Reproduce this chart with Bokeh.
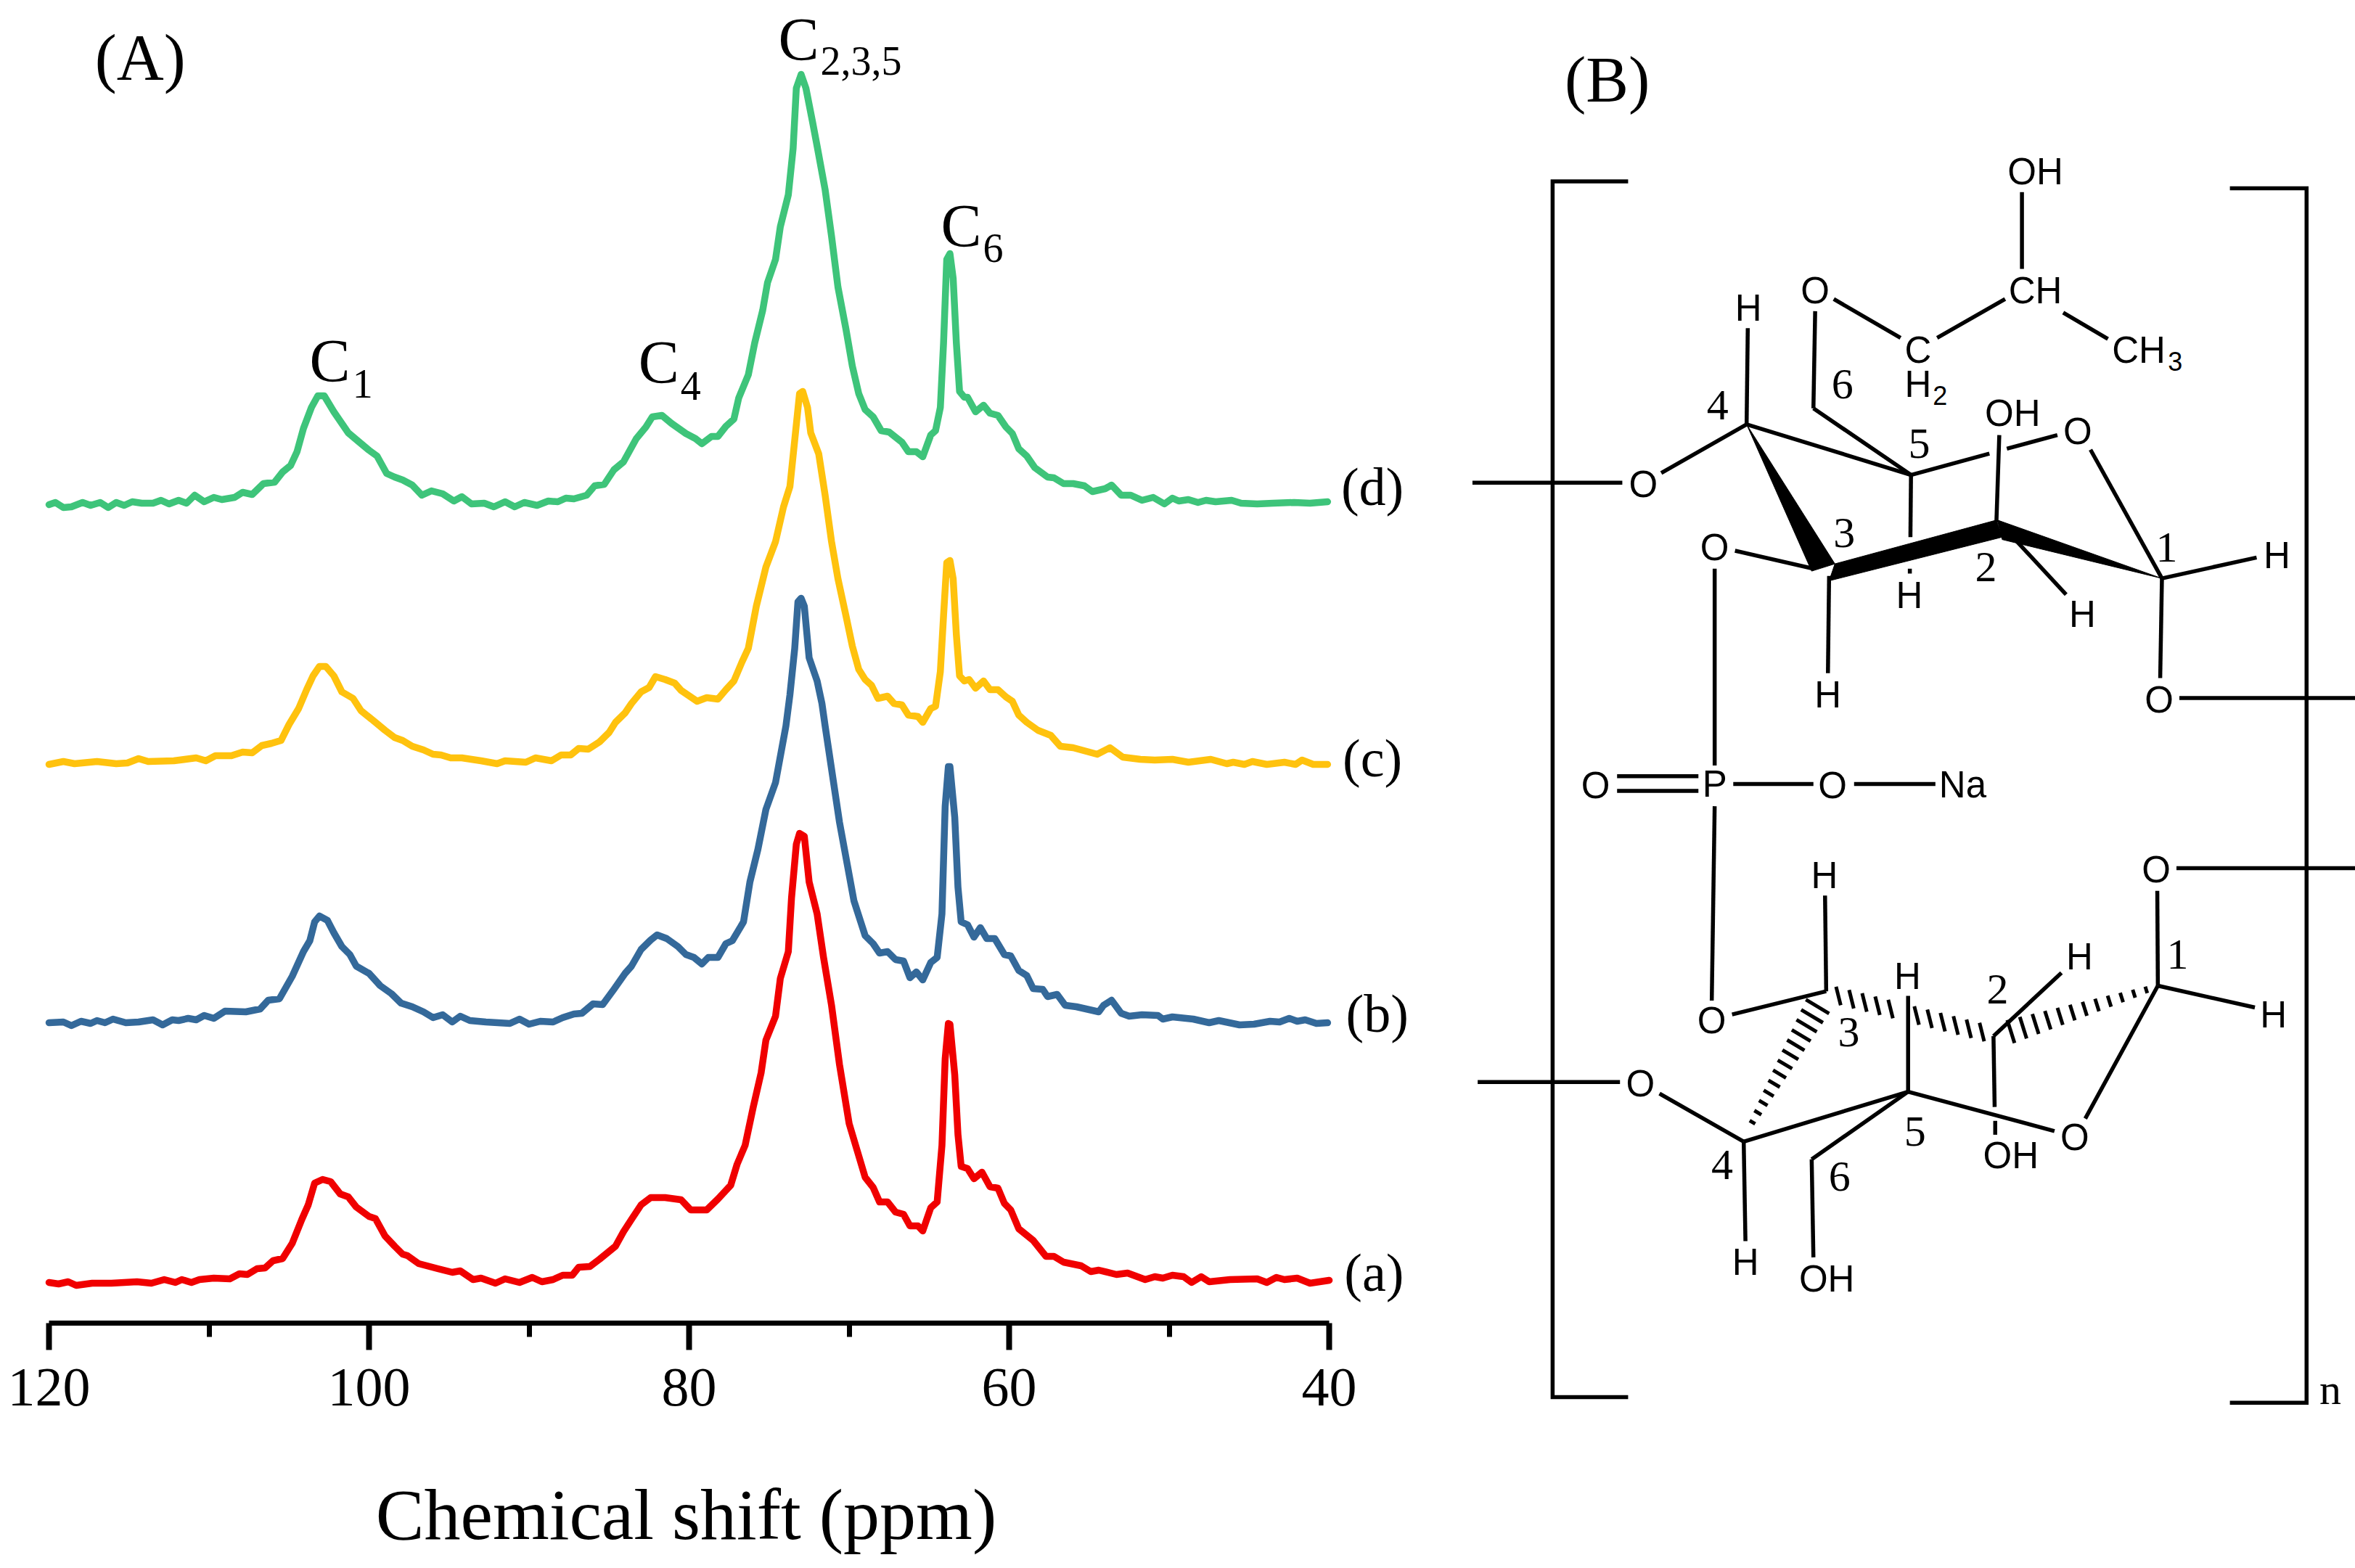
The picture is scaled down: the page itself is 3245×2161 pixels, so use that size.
from bokeh.plotting import figure
from bokeh.layouts import row, column
from bokeh.models import Range1d, FixedTicker
from bokeh.core.properties import value
from bokeh.embed import file_html
from bokeh.resources import INLINE
import numpy as np

# ---- spectra: chemical shift (ppm) and intensity above each trace's baseline
ppm_d = [120.0,119.6,119.1,118.6,117.9,117.4,116.8,116.3,115.8,115.3,114.8,114.2,113.5,113.0,112.5,111.9,111.4,110.9,110.3,109.7,109.2,108.4,107.9,107.3,106.6,105.9,105.4,104.9,104.5,104.1,103.6,103.2,102.8,102.2,101.3,100.6,100.0,99.5,98.9,98.4,97.9,97.3,96.7,96.1,95.4,94.7,94.2,93.6,92.8,92.2,91.5,90.9,90.3,89.5,88.8,88.2,87.7,87.2,86.4,85.9,85.3,84.7,84.1,83.3,82.7,82.3,81.7,81.1,80.2,79.6,79.2,78.6,78.2,77.7,77.2,76.9,76.3,75.9,75.4,75.1,74.6,74.3,73.8,73.5,73.3,73.0,72.7,72.3,72.0,71.5,71.1,70.7,70.2,69.8,69.4,69.0,68.5,68.0,67.5,66.7,66.3,65.8,65.4,64.9,64.6,64.3,64.1,63.9,63.7,63.5,63.3,63.1,62.8,62.6,62.1,61.6,61.2,60.7,60.2,59.8,59.4,58.9,58.4,57.6,57.2,56.6,56.0,55.3,54.8,54.0,53.6,53.0,52.4,51.7,51.0,50.3,49.8,49.4,48.8,48.2,47.7,47.1,46.1,45.5,44.5,43.5,42.2,41.2,40.1]
int_d = [0,3,-4,-3,3,-1,3,-4,3,-1,4,2,2,6,1,6,2,13,4,10,7,10,17,14,29,31,45,54,73,105,134,150,150,128,99,86,75,67,43,38,34,27,13,19,15,5,11,1,2,-3,4,-3,3,-1,5,4,9,8,13,26,28,48,59,91,107,121,123,112,98,91,84,94,94,108,118,147,179,223,268,306,338,383,427,491,574,593,574,529,494,434,370,300,242,191,153,131,121,102,100,86,73,73,66,96,102,134,223,338,346,312,223,156,148,148,128,137,126,123,107,98,77,67,51,38,37,29,29,26,18,22,27,13,13,6,10,1,9,5,7,3,6,4,6,2,1,2,3,2,4]

ppm_c = [120.0,119.1,118.4,117.0,115.8,115.1,114.4,113.8,112.2,110.8,110.2,109.6,108.6,107.9,107.3,106.7,106.1,105.5,105.0,104.4,103.9,103.5,103.1,102.7,102.2,101.7,101.0,100.5,99.6,99.0,98.4,97.9,97.3,96.6,96.0,95.5,94.9,94.2,93.0,92.0,91.5,90.2,89.6,88.6,88.0,87.4,86.9,86.3,85.6,85.0,84.6,84.0,83.6,83.0,82.5,82.1,81.5,80.9,80.5,80.1,79.5,78.9,78.2,77.7,77.2,76.7,76.3,75.8,75.2,74.6,74.1,73.7,73.4,73.1,72.9,72.6,72.4,71.9,71.5,71.1,70.7,70.2,69.8,69.4,69.0,68.6,68.2,67.6,67.2,66.7,66.3,65.7,65.4,64.9,64.6,64.3,64.1,63.9,63.7,63.5,63.3,63.1,62.8,62.5,62.1,61.6,61.2,60.7,60.2,59.8,59.4,58.9,58.2,57.4,56.8,56.0,54.5,53.7,52.9,51.8,50.9,49.8,48.8,47.4,46.4,46.0,45.3,44.8,43.9,42.8,42.1,41.7,41.0,40.1]
int_c = [-3,1,-2,1,-2,-1,5,1,2,6,2,9,9,14,13,23,26,30,52,74,100,119,132,132,119,97,88,71,55,44,34,30,22,17,11,10,6,6,2,-2,2,0,6,2,10,10,19,18,28,41,55,68,81,97,103,118,114,109,99,93,84,89,87,100,112,138,157,215,269,304,352,380,444,508,511,489,454,425,368,304,253,202,160,128,114,106,88,91,81,79,65,63,55,74,77,125,202,275,278,253,176,119,112,114,102,112,100,100,90,84,65,55,44,37,22,20,11,20,7,4,3,4,0,4,-2,0,-3,1,-3,0,-3,3,-3,-3]

ppm_b = [120.0,119.1,118.6,118.0,117.4,117.0,116.5,116.0,115.2,114.4,113.5,112.9,112.3,111.9,111.3,110.8,110.3,109.7,109.0,107.7,106.8,106.3,105.6,104.8,104.1,103.7,103.4,103.1,102.6,102.2,101.7,101.2,100.8,100.0,99.3,98.6,98.0,97.3,96.6,96.0,95.4,94.8,94.3,93.7,92.7,91.2,90.6,90.0,89.3,88.5,87.9,87.2,86.7,86.0,85.4,84.7,84.0,83.6,83.0,82.4,82.0,81.4,80.7,80.2,79.7,79.2,78.8,78.2,77.7,77.3,76.6,76.2,75.7,75.2,74.6,73.95,73.7,73.4,73.2,73.0,72.8,72.5,72.0,71.7,71.5,71.0,70.6,70.1,69.7,69.0,68.5,68.1,67.6,67.1,66.6,66.2,65.8,65.4,64.9,64.5,64.2,64.0,63.8,63.7,63.4,63.2,63.0,62.6,62.2,61.8,61.4,60.9,60.3,59.9,59.4,58.9,58.5,57.9,57.6,57.0,56.5,55.8,54.4,54.1,53.6,53.0,52.5,51.7,50.7,50.4,49.8,48.5,47.5,46.9,45.6,44.7,43.7,43.1,42.5,42.0,41.5,40.8,40.1]
int_b = [0,1,-4,2,-1,3,0,5,0,1,4,-3,4,3,6,4,10,6,16,15,19,31,33,64,98,113,139,147,141,124,105,94,78,68,51,40,27,22,15,7,11,1,9,3,1,-1,5,-2,2,1,7,12,13,26,25,46,68,78,101,114,121,116,105,94,90,81,90,90,109,113,139,194,239,294,331,409,452,516,580,585,574,503,471,440,409,335,276,216,168,120,109,96,98,87,85,62,70,59,83,90,150,298,353,353,283,187,139,135,118,131,116,116,94,92,72,65,47,46,36,39,24,22,15,24,31,13,9,11,10,5,8,5,0,3,-3,-2,2,1,6,2,4,-1,0]

ppm_a = [120.0,119.4,118.8,118.3,117.3,116.1,114.5,113.6,112.8,112.1,111.7,111.1,110.6,109.7,108.7,108.1,107.6,107.0,106.5,106.0,105.4,104.8,104.2,103.8,103.4,102.9,102.4,101.8,101.3,100.8,100.0,99.6,99.0,98.4,97.9,97.6,96.9,95.7,94.8,94.3,93.5,93.0,92.1,91.5,90.6,89.8,89.2,88.5,87.9,87.3,86.9,86.2,85.6,85.1,84.6,84.1,83.6,83.0,82.4,81.5,80.5,79.9,78.9,78.2,77.4,77.0,76.5,76.0,75.5,75.2,74.6,74.3,73.8,73.6,73.3,73.1,72.8,72.5,72.0,71.6,71.1,70.6,70.0,69.5,69.0,68.5,68.1,67.6,67.1,66.6,66.2,65.7,65.4,64.9,64.5,64.2,64.0,63.8,63.7,63.4,63.2,63.0,62.6,62.2,61.7,61.2,60.7,60.3,59.9,59.4,58.5,57.7,57.2,56.6,55.5,54.9,54.4,53.3,52.6,51.5,50.9,50.4,49.8,49.1,48.6,48.0,47.5,46.2,44.5,43.9,43.3,42.8,42.0,41.2,40.0]
int_a = [0,-2,1,-4,-1,-1,1,-1,4,0,4,0,4,6,5,12,11,19,20,30,33,54,87,107,137,142,139,122,118,104,91,88,64,50,39,37,26,19,14,16,4,6,-1,5,0,7,1,4,10,10,21,22,32,41,50,70,87,107,117,117,114,100,100,115,134,163,189,241,289,334,367,419,456,530,604,619,615,552,508,448,382,300,219,182,145,131,111,111,97,94,78,78,71,103,111,189,308,357,356,286,204,160,157,143,152,132,130,109,100,74,58,36,36,28,23,15,17,11,13,4,8,6,10,8,0,8,1,4,5,0,7,4,6,-1,3]

baseline_offsets = {"a": 56, "b": 414, "c": 773, "d": 1128}
trace_colors = {"a": "#F00000", "b": "#34699A", "c": "#FFC20E", "d": "#3EC47A"}
major_ticks = [120, 100, 80, 60, 40]
minor_ticks = [110, 90, 70, 50]
x_title = "Chemical shift (ppm)"
SERIF = "Liberation Serif"
SANS = "Liberation Sans"

# ---------------- panel A ----------------
pA = figure(width=2040, height=2161, output_backend="svg", toolbar_location=None,
            x_range=Range1d(125.306, 35.06), y_range=Range1d(0, 1823),
            y_axis_location=None, x_axis_label=x_title, margin=(0, 0, 0, -50),
            min_border_left=0, min_border_right=0, min_border_top=0, min_border_bottom=338)
pA.outline_line_color = None
pA.grid.visible = False
ax = pA.xaxis[0]
ax.ticker = FixedTicker(ticks=major_ticks, minor_ticks=minor_ticks)
ax.bounds = (40, 120)
ax.axis_line_width = 7
ax.axis_line_color = "black"
ax.major_tick_line_color = "black"
ax.minor_tick_line_color = "black"
ax.major_tick_line_width = 8
ax.minor_tick_line_width = 7
ax.major_tick_in = 0
ax.major_tick_out = 37
ax.minor_tick_in = 0
ax.minor_tick_out = 19
ax.major_label_text_font = SERIF
ax.major_label_text_font_size = "76px"
ax.major_label_text_color = "black"
ax.major_label_standoff = 26
ax.axis_label_text_font = SERIF
ax.axis_label_text_font_style = "normal"
ax.axis_label_text_font_size = "100px"
ax.axis_label_text_color = "black"
ax.axis_label_standoff = 92

for key, xs, ys in [("a", ppm_a, int_a), ("b", ppm_b, int_b), ("c", ppm_c, int_c), ("d", ppm_d, int_d)]:
    pA.line(xs, np.array(ys) + baseline_offsets[key], line_color=trace_colors[key], line_width=9.5,
            line_join="round", line_cap="round")

def serif_text(fig, x, y, txt, size):
    fig.text([x], [y], text=[txt], text_font=value(SERIF), text_font_size=f"{size}px",
             text_align="center", text_baseline="middle", text_color="black")

serif_text(pA, 114.3, 1744, "(A)", 90)
for x, y, t in [(102.45, 1326, "C"), (81.9, 1324, "C"), (73.15, 1769, "C"), (63.0, 1512, "C")]:
    serif_text(pA, x, y, t, 84)
for x, y, t in [(100.4, 1295, "1"), (79.9, 1292, "4"), (69.25, 1740, "2,3,5"), (61.0, 1482, "6")]:
    serif_text(pA, x, y, t, 56)
for x, y, t in [(37.2, 70, "(a)"), (37.0, 427, "(b)"), (37.3, 779, "(c)"), (37.3, 1153, "(d)")]:
    serif_text(pA, x, y, t, 74)

# ---------------- panel B : drawn structure ----------------
pB = figure(width=1255, height=2161, output_backend="svg", toolbar_location=None,
            x_range=Range1d(1990, 3245), y_range=Range1d(2161, 0),
            x_axis_location=None, y_axis_location=None,
            min_border_left=0, min_border_right=0, min_border_top=0, min_border_bottom=0)
pB.outline_line_color = None
pB.grid.visible = False

def u(x, y):   # upper half of the sketch
    return 1990 + x / 1.2494, 50 + y / 1.4933
def l(x, y):   # lower half of the sketch
    return 1990 + x / 1.2494, 1050 + y / 1.568

upper_bonds = [(994,320,994,478),(965,540,848,620),(670,540,785,620),(1065,568,1142,622),(638,565,635,765),
    (635,765,803,902),(520,798,803,902),(522,600,520,798),(520,798,373,898),(48,918,306,918),(803,902,938,858),
    (968,848,1055,820),(955,820,950,1000),(803,902,802,1030),(801,1095,801,1105),(1112,850,1235,1115),
    (1235,1115,1398,1072),(1235,1115,1232,1320),(1265,1361,1568,1361),(955,1000,1070,1148),(662,1110,660,1310),
    (635,1095,500,1058),(465,1095,465,1500)]
lower_bonds = [(465,95,460,515),(297,30,437,30),(297,62,437,62),(497,47,635,47),(705,47,845,47),
    (655,288,657,495),(657,495,495,545),(370,716,515,820),(515,820,798,712),(798,505,798,712),(798,712,632,858),
    (632,858,635,1070),(515,820,518,1035),(798,712,1050,797),(1103,770,1228,483),(1228,483,1395,530),
    (1228,483,1227,278),(1260,229,1568,229),(945,592,947,745),(948,775,948,805),(945,592,1062,455),(57,691,302,691)]
xs, ys = [], []
for b in upper_bonds:
    a0, a1 = u(b[0], b[1]), u(b[2], b[3]); xs.append([a0[0], a1[0]]); ys.append([a0[1], a1[1]])
for b in lower_bonds:
    a0, a1 = l(b[0], b[1]), l(b[2], b[3]); xs.append([a0[0], a1[0]]); ys.append([a0[1], a1[1]])
pB.multi_line(xs, ys, line_color="black", line_width=5.5)

# brackets
for pts in [[u(316,298), u(186,298), l(186,1372), l(316,1372)], [u(1352,312), u(1484,312), l(1484,1384), l(1352,1384)]]:
    pB.line([p[0] for p in pts], [p[1] for p in pts], line_color="black", line_width=5.5, line_join="miter")

# solid wedges
for poly in [[(520,798),(672,1085),(632,1100)], [(662,1120),(672,1085),(950,995),(960,1030)], [(952,995),(960,1035),(1235,1115)]]:
    pts = [u(*p) for p in poly]
    pB.patch([p[0] for p in pts], [p[1] for p in pts], fill_color="black", line_color="black", line_width=1)

# hashed wedges (lower ring)
hx, hy = [], []
def hash_bond(x0, y0, x1, y1, n, d0, d1, dirx, diry, skip=()):
    for i, t in enumerate(np.linspace(0, 1, n)):
        if i in skip:
            continue
        cx, cy = x0 + (x1 - x0) * t, y0 + (y1 - y0) * t
        d = d0 + (d1 - d0) * t
        a0, a1 = l(cx - dirx * d, cy - diry * d), l(cx + dirx * d, cy + diry * d)
        hx.append([a0[0], a1[0]]); hy.append([a0[1], a1[1]])
hash_bond(678, 505, 925, 583, 12, 20, 20, 0.2, 1.0, skip=(5,))
hash_bond(975, 582, 1208, 492, 12, 25, 7, 0.25, 1.0)
hash_bond(642, 528, 530, 778, 13, 25, 6, 0.8, 0.6)
pB.multi_line(hx, hy, line_color="black", line_width=5)

def sans(pos, t, size=51):
    pB.text([pos[0]], [pos[1]], text=[t], text_font=value(SANS), text_font_size=f"{size}px",
            text_align="center", text_baseline="middle", text_color="black")

for x, y, t in [(1017,278,"OH"),(1017,522,"CH"),(638,522,"O"),(523,558,"H"),(815,645,"C"),(815,716,"H"),(1195,645,"CH"),
                (978,775,"OH"),(1090,812,"O"),(342,922,"O"),(465,1052,"O"),(1433,1068,"H"),(800,1150,"H"),(1098,1188,"H"),
                (660,1355,"H"),(1230,1365,"O")]:
    sans(u(x, y), t)
sans(u(853, 738), "2", 36)
sans(u(1258, 668), "3", 36)
for x, y, t in [(260,50,"O"),(465,47,"P"),(668,50,"O"),(892,48,"Na"),(1225,232,"O"),(654,245,"H"),(460,558,"O"),(797,462,"H"),
                (1093,420,"H"),(1427,545,"H"),(337,695,"O"),(1085,810,"O"),(975,850,"OH"),(518,1080,"H"),(658,1117,"OH")]:
    sans(l(x, y), t)

for x, y, t in [(470,758,"4"),(685,715,"6"),(817,838,"5"),(688,1022,"3"),(932,1092,"2"),(1243,1052,"1")]:
    p0 = u(x, y); serif_text(pB, p0[0], p0[1], t, 60)
for x, y, t in [(1262,415,"1"),(952,490,"2"),(696,583,"3"),(810,798,"5"),(478,870,"4"),(680,895,"6"),(1525,1355,"n")]:
    p0 = l(x, y); serif_text(pB, p0[0], p0[1], t, 60)
p0 = u(280, 88); serif_text(pB, p0[0], p0[1], "(B)", 88)

layout = row(column(pA), column(pB), spacing=0)
open("out.html", "w").write(file_html(layout, INLINE))
